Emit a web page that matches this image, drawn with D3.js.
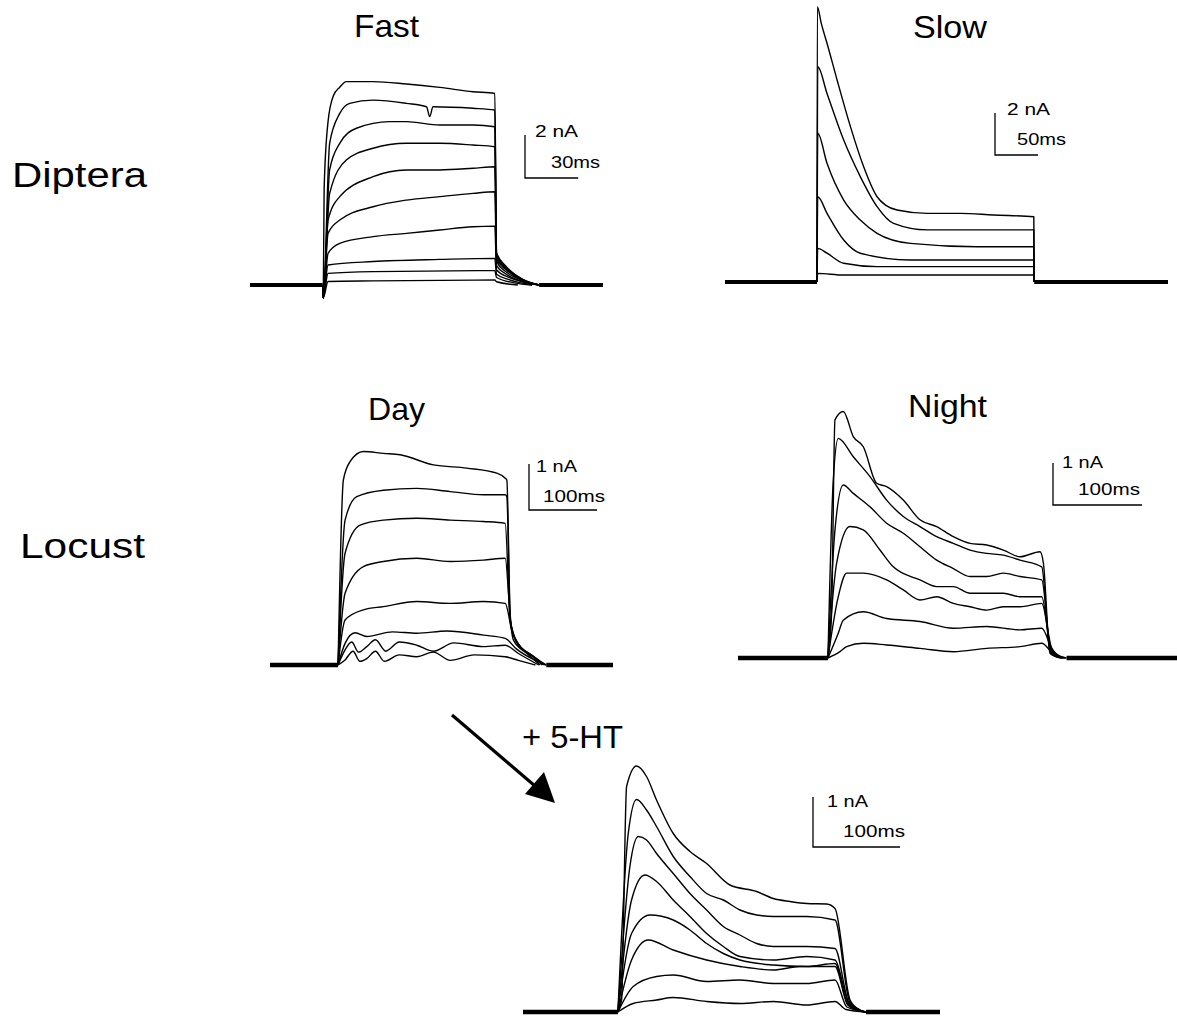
<!DOCTYPE html>
<html>
<head>
<meta charset="utf-8">
<script src="https://cdn.jsdelivr.net/npm/d3@7"></script>
<style>
body { margin: 0; background: #fff; }
svg { font-family: "Liberation Sans", Arial, sans-serif; }
</style>
</head>
<body>
<svg id="fig" width="1177" height="1024"></svg>
<script>
// every trace: [time ms from step onset, current nA]
var fastTraces = [
    [[0.3, -0.6], [0.8, 4.5], [3, 7.6], [6, 8.8], [9.6, 9.2], [13.3, 9.46], [28.4, 9.46], [47.2, 9.35], [66, 9.19], [84.7, 8.99], [97, 8.91], [98, 1.5], [103.5, 0.85], [113, 0.25], [122, 0]],
    [[0.3, -0.6], [3.9, 6.59], [9.6, 7.98], [15.2, 8.45], [28.4, 8.6], [47.2, 8.45], [58.5, 8.29], [60.3, 7.83], [62.2, 8.29], [84.7, 8.22], [97, 8.14], [98, 1.4], [103.5, 0.8], [113, 0.25], [122, 0]],
    [[0.3, -0.6], [3.9, 5.35], [9.6, 6.59], [19, 7.29], [37.8, 7.6], [47.2, 7.6], [66, 7.44], [84.7, 7.44], [97, 7.36], [98, 1.3], [103.5, 0.75], [113, 0.2], [122, 0]],
    [[0.3, -0.6], [3.9, 4.26], [13.3, 5.81], [28.4, 6.36], [47.2, 6.59], [66, 6.59], [84.7, 6.51], [97, 6.43], [98, 1.2], [103.5, 0.7], [113, 0.2], [122, 0]],
    [[0.3, -0.6], [3, 3.02], [9.6, 4.11], [28.4, 5.04], [47.2, 5.35], [66, 5.35], [84.7, 5.43], [97, 5.5], [98, 1.1], [103.5, 0.6], [113, 0.2], [122, 0]],
    [[0.3, -0.6], [3, 2.4], [9.6, 3.02], [28.4, 3.64], [47.2, 3.95], [66, 4.11], [84.7, 4.26], [97, 4.34], [98, 0.9], [103.5, 0.5], [113, 0.15], [122, 0]],
    [[0.3, -0.6], [3, 1.47], [9.6, 1.94], [28.4, 2.25], [47.2, 2.4], [66, 2.56], [84.7, 2.71], [97, 2.74], [98, 0.7], [105, 0.35], [115, 0.1], [122, 0]],
    [[0.3, -0.6], [3, 0.93], [28.4, 1.09], [66, 1.19], [97, 1.24], [98, 0.5], [105, 0.25], [118, 0]],
    [[0.3, -0.6], [3, 0.54], [28.4, 0.62], [97, 0.67], [98, 0.35], [108, 0.1], [118, 0]],
    [[0.3, -0.6], [3, 0.16], [28.4, 0.19], [97, 0.23], [98, 0.15], [110, 0]]
];
var slowTraces = [
    [[0.3, 13.11], [5, 12.3], [11.6, 11.37], [23.3, 9.62], [38.8, 7.4], [54.2, 5.49], [69.8, 4.06], [80, 3.65], [93, 3.43], [128, 3.27], [166.6, 3.27], [205, 3.19], [252, 3.11], [252.5, 0]],
    [[0.8, 10.25], [11.6, 8.98], [31, 6.76], [50.3, 5.02], [69.8, 3.59], [89, 2.79], [128, 2.48], [186, 2.48], [252, 2.48], [252.5, 0]],
    [[0.8, 7.08], [11.6, 5.65], [31, 3.9], [50.3, 2.95], [69.8, 2.32], [108.5, 1.84], [186, 1.68], [252, 1.68], [252.5, 0]],
    [[0.8, 4.06], [11.6, 3.27], [31, 2.0], [50.3, 1.37], [108.5, 1.05], [252, 1.05], [252.5, 0]],
    [[0.8, 1.6], [11.6, 1.37], [31, 0.89], [69.8, 0.73], [252, 0.73], [252.5, 0]],
    [[0.8, 0.41], [31, 0.33], [252, 0.33], [252.5, 0]]
];
var dayTraces = [
    [[7.8, 4.02], [17.6, 4.42], [37.3, 4.64], [66.7, 4.6], [91.2, 4.57], [140.2, 4.35], [189.2, 4.28], [233.3, 4.17], [245.6, 4.06], [248, 4.02], [252.9, 1.12], [257.8, 0.54], [277.5, 0.25], [297, 0]],
    [[10.3, 3.15], [27.5, 3.66], [66.7, 3.8], [115.7, 3.84], [164.7, 3.77], [213.7, 3.7], [245.6, 3.7], [248, 3.66], [253, 1.0], [262, 0.5], [285, 0.2], [300, 0]],
    [[10.3, 2.43], [32.4, 3.04], [66.7, 3.15], [115.7, 3.19], [164.7, 3.15], [213.7, 3.12], [245.6, 3.08], [253, 0.95], [263, 0.5], [286, 0.2], [302, 0]],
    [[10.3, 1.56], [37.3, 2.14], [66.7, 2.25], [115.7, 2.32], [164.7, 2.25], [213.7, 2.28], [245.6, 2.32], [254, 0.9], [265, 0.45], [288, 0.18], [304, 0]],
    [[10.3, 0.98], [37.3, 1.2], [66.7, 1.27], [115.7, 1.38], [164.7, 1.34], [213.7, 1.38], [245.6, 1.34], [256, 0.7], [268, 0.4], [290, 0.15], [306, 0]],
    [[10.3, 0.47], [25, 0.7], [42.2, 0.62], [80, 0.72], [115.7, 0.69], [160, 0.74], [213.7, 0.65], [245.6, 0.58], [262, 0.35], [290, 0.1], [306, 0]],
    [[10.3, 0.33], [20, 0.5], [30, 0.28], [42.2, 0.4], [55, 0.55], [70, 0.3], [90, 0.5], [115.7, 0.43], [140, 0.3], [170, 0.48], [213.7, 0.4], [245.6, 0.43], [265, 0.25], [295, 0]],
    [[10.3, 0.11], [22, 0.3], [32, 0.08], [42.2, 0.14], [55, 0.3], [68, 0.08], [90, 0.22], [115.7, 0.18], [140, 0.28], [165, 0.1], [200, 0.22], [245.6, 0.18], [265, 0.1], [290, 0]]
];
var nightTraces = [
    [[4.1, 1.06], [7.9, 5.67], [17.2, 5.87], [28.5, 5.27], [39.7, 5.03], [54.7, 4.16], [65.9, 4.08], [84.6, 3.76], [103.4, 3.29], [122.1, 3.13], [140.8, 2.89], [159.6, 2.73], [178.3, 2.69], [197, 2.57], [215.7, 2.41], [238.2, 2.53], [242, 2.25], [249.4, 0.11], [254.9, 0.04], [262, 0]],
    [[6, 4.24], [11.6, 5.23], [28.5, 4.79], [47.2, 4.32], [65.9, 3.76], [84.6, 3.37], [103.4, 3.13], [122.1, 2.89], [140.8, 2.73], [159.6, 2.57], [178.3, 2.49], [197, 2.45], [215.7, 2.33], [240.1, 2.17], [249.4, 0.15], [256, 0.04], [263, 0]],
    [[7.9, 3.05], [17.2, 4.12], [28.5, 3.92], [47.2, 3.6], [65.9, 3.21], [84.6, 2.97], [103.4, 2.65], [122.1, 2.33], [140.8, 2.13], [159.6, 1.94], [178.3, 1.94], [197, 2.02], [215.7, 1.94], [240.1, 1.86], [250, 0.2], [257, 0.05], [264, 0]],
    [[9.7, 2.25], [24.7, 3.13], [39.7, 3.05], [58.4, 2.57], [73.4, 2.17], [103.4, 1.86], [122.1, 1.7], [140.8, 1.7], [159.6, 1.54], [178.3, 1.54], [197, 1.54], [215.7, 1.46], [240.1, 1.46], [250, 0.25], [258, 0.05], [265, 0]],
    [[11.6, 1.46], [21, 2.02], [39.7, 2.02], [65.9, 1.86], [84.6, 1.62], [103.4, 1.38], [122.1, 1.46], [140.8, 1.3], [159.6, 1.22], [178.3, 1.14], [197, 1.22], [215.7, 1.22], [240.1, 1.3], [251, 0.25], [259, 0.05], [266, 0]],
    [[11.6, 0.59], [17.2, 0.9], [39.7, 1.1], [65.9, 0.94], [103.4, 0.87], [140.8, 0.71], [178.3, 0.75], [215.7, 0.67], [240.1, 0.71], [252, 0.2], [260, 0.05], [267, 0]],
    [[13.5, 0.15], [21, 0.27], [39.7, 0.35], [65.9, 0.31], [103.4, 0.23], [140.8, 0.15], [178.3, 0.23], [215.7, 0.27], [240.1, 0.35], [253, 0.1], [268, 0]]
];
var htTraces = [
    [[4.2, 0.24], [10, 4.51], [21.5, 4.92], [32.9, 4.71], [44.4, 4.24], [63.6, 3.57], [82.8, 3.21], [101.9, 2.97], [128.7, 2.54], [159.4, 2.41], [178.5, 2.27], [197.7, 2.21], [216.9, 2.17], [239.8, 2.16], [249.4, 2.07], [266.7, 0.24], [278, 0.04], [285, 0]],
    [[11.9, 3.57], [21.5, 4.25], [32.9, 4.04], [44.4, 3.71], [63.6, 3.11], [82.8, 2.71], [101.9, 2.37], [121.1, 2.24], [140.2, 2.04], [159.4, 1.94], [178.5, 1.91], [216.9, 1.91], [249.4, 1.84], [266, 0.22], [278, 0.04], [285, 0]],
    [[13.8, 2.91], [23.4, 3.51], [32.9, 3.44], [44.4, 3.17], [63.6, 2.77], [82.8, 2.37], [101.9, 2.04], [121.1, 1.71], [140.2, 1.54], [159.4, 1.37], [178.5, 1.31], [216.9, 1.31], [249.4, 1.27], [265, 0.2], [278, 0.03], [285, 0]],
    [[15.7, 2.24], [31, 2.74], [44.4, 2.61], [63.6, 2.24], [82.8, 1.91], [101.9, 1.57], [121.1, 1.31], [140.2, 1.11], [178.5, 1.04], [216.9, 1.11], [249.4, 1.04], [265, 0.18], [278, 0.03], [285, 0]],
    [[15.7, 1.57], [36.8, 1.94], [63.6, 1.84], [82.8, 1.64], [101.9, 1.37], [121.1, 1.17], [140.2, 1.04], [178.5, 0.94], [216.9, 0.91], [249.4, 0.97], [264, 0.16], [278, 0.02], [285, 0]],
    [[15.7, 1.04], [34.9, 1.44], [63.6, 1.24], [101.9, 1.04], [140.2, 0.91], [178.5, 0.84], [209.2, 0.91], [249.4, 0.91], [264, 0.14], [278, 0.02], [285, 0]],
    [[17.6, 0.51], [44.4, 0.71], [63.6, 0.74], [101.9, 0.61], [140.2, 0.64], [178.5, 0.57], [216.9, 0.57], [249.4, 0.64], [263, 0.1], [285, 0]],
    [[17.6, 0.17], [44.4, 0.24], [63.6, 0.29], [101.9, 0.21], [140.2, 0.17], [178.5, 0.21], [216.9, 0.14], [249.4, 0.21], [262, 0.05], [285, 0]]
];

// recording window (ms) of each panel
var fastWindow = [-41, 158], slowWindow = [-107, 408], dayWindow = [-100, 404], nightWindow = [-101, 392], htWindow = [-109, 370];
// scale bars: [nA, ms]
var fastBar = [2, 30], slowBar = [2, 50], dayBar = [1, 100], nightBar = [1, 100], htBar = [1, 100];

// layout of the panels on the page
var panels = [
    { title: "Fast", traces: fastTraces, win: fastWindow, bar: fastBar, xr: [250, 603], y0: 285, pxNA: 21.5, base: 4,
      tx: 354, ty: 37, tw: 65, barAt: [525, 178], lab1: [535, 137, 43], lab2: [551, 168, 49] },
    { title: "Slow", traces: slowTraces, win: slowWindow, bar: slowBar, xr: [725, 1168], y0: 282, pxNA: 21, base: 4,
      tx: 913, ty: 38, tw: 74, barAt: [995, 155], lab1: [1007, 115, 43], lab2: [1017, 145, 49] },
    { title: "Day", traces: dayTraces, win: dayWindow, bar: dayBar, xr: [270, 613], y0: 665, pxNA: 46, base: 4.5,
      tx: 368, ty: 420, tw: 57, barAt: [529, 510], lab1: [536, 472, 41], lab2: [543, 502, 62] },
    { title: "Night", traces: nightTraces, win: nightWindow, bar: nightBar, xr: [738, 1177], y0: 658, pxNA: 42, base: 4.5,
      tx: 908, ty: 417, tw: 79, barAt: [1053, 505], lab1: [1062, 468, 41], lab2: [1078, 495, 62] },
    { title: null, traces: htTraces, win: htWindow, bar: htBar, xr: [523, 940], y0: 1012, pxNA: 50, base: 4.5,
      barAt: [813, 847], lab1: [827, 807, 41], lab2: [843, 837, 62] }
];

var svg = d3.select("#fig");

function drawPanel(p) {
    let x = d3.scaleLinear().domain(p.win).range(p.xr);
    let y = d3.scaleLinear().domain([0, 1]).range([p.y0, p.y0 - p.pxNA]);
    let line = d3.line().x(d => x(d[0])).y(d => y(d[1])).curve(d3.curveMonotoneX);
    let g = svg.append("g");

    // noisy baseline is drawn thicker
    let lastT = d3.max(p.traces, t => t[t.length - 1][0]);
    g.append("path")
        .attr("d", line([[p.win[0], 0], [0, 0]]))
        .style("fill", "none").style("stroke", "#000").style("stroke-width", p.base);
    g.append("path")
        .attr("d", line([[lastT, 0], [p.win[1], 0]]))
        .style("fill", "none").style("stroke", "#000").style("stroke-width", p.base);

    g.selectAll("path.trace")
        .data(p.traces)
        .enter().append("path")
        .attr("class", "trace")
        .attr("d", function (d) { return line([[0, 0]].concat(d)); })
        .style("fill", "none")
        .style("stroke", "#000")
        .style("stroke-width", 1.4)
        .style("stroke-linejoin", "round");

    // scale bar
    let bx = p.barAt[0], by = p.barAt[1];
    let h = y(0) - y(p.bar[0]);
    let w = x(p.win[0] + p.bar[1]) - x(p.win[0]);
    g.append("path")
        .attr("d", "M" + bx + "," + (by - h) + "V" + by + "H" + (bx + w))
        .style("fill", "none").style("stroke", "#000").style("stroke-width", 1.3);
    g.append("text")
        .attr("x", p.lab1[0]).attr("y", p.lab1[1])
        .attr("textLength", p.lab1[2]).attr("lengthAdjust", "spacingAndGlyphs")
        .style("font-size", "17px")
        .text(p.bar[0] + " nA");
    g.append("text")
        .attr("x", p.lab2[0]).attr("y", p.lab2[1])
        .attr("textLength", p.lab2[2]).attr("lengthAdjust", "spacingAndGlyphs")
        .style("font-size", "17px")
        .text(p.bar[1] + "ms");

    if (p.title) {
        g.append("text")
            .attr("x", p.tx).attr("y", p.ty)
            .attr("textLength", p.tw).attr("lengthAdjust", "spacingAndGlyphs")
            .style("font-size", "32px")
            .text(p.title);
    }
}

panels.forEach(drawPanel);

// row labels
var rowLabels = [["Diptera", 12, 187, 135], ["Locust", 20, 558, 125]];
svg.selectAll("text.row")
    .data(rowLabels)
    .enter().append("text")
    .attr("class", "row")
    .attr("x", d => d[1]).attr("y", d => d[2])
    .attr("textLength", d => d[3]).attr("lengthAdjust", "spacingAndGlyphs")
    .style("font-size", "35px")
    .text(d => d[0]);

// + 5-HT arrow
svg.append("text")
    .attr("x", 522).attr("y", 748)
    .attr("textLength", 101).attr("lengthAdjust", "spacingAndGlyphs")
    .style("font-size", "32px")
    .text("+ 5-HT");
svg.append("line")
    .attr("x1", 452).attr("y1", 715).attr("x2", 535).attr("y2", 786)
    .style("stroke", "#000").style("stroke-width", 3.2);
svg.append("path")
    .attr("d", "M555,803L525,794L544,772Z")
    .style("fill", "#000");
</script>
</body>
</html>
